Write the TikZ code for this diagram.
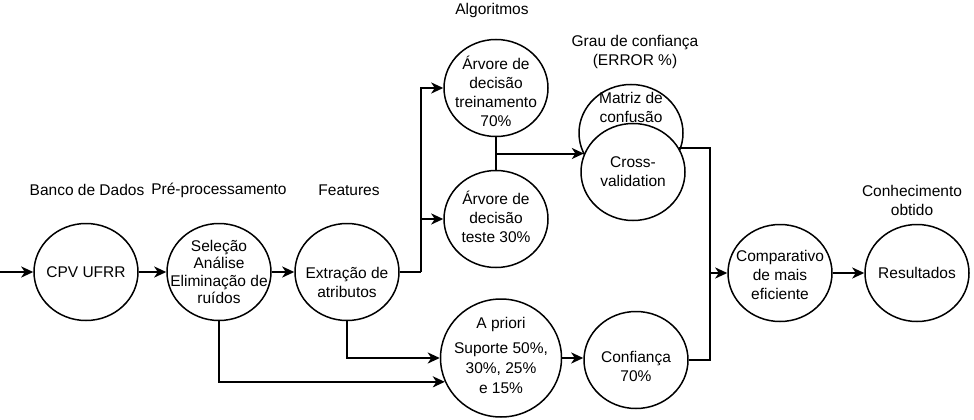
\documentclass[tikz,border=0pt]{standalone}
\usepackage{fontspec}
\setmainfont{Liberation Sans}
\usetikzlibrary{shapes.geometric,arrows.meta,calc}
\begin{document}
\begin{tikzpicture}[x=1pt,y=-1pt,
  proc/.style={ellipse,draw,line width=1.5pt,fill=white,minimum width=104pt,minimum height=97pt,inner sep=0pt},
  lbl/.style={align=center,font=\fontsize{15.5}{19}\selectfont,inner sep=0pt},
  wire/.style={line width=2pt},
  arr/.style={wire,-{Stealth[length=12pt,width=11pt,inset=3.5pt]}},
]
\useasboundingbox[fill=white] (0,0) rectangle (974,420);

% top labels
\node[lbl] (lbanco) at (87,190) {Banco de Dados};
\node[lbl] (lpre) at (219,190) {Pré-processamento};
\node[lbl] (lfeat) at (349,190) {Features};
\node[lbl] (lalg) at (492,10) {Algoritmos};
\node[lbl] (lgrau) at (635,52) {Grau de confiança\\(ERROR \%)};
\node[lbl] (lconh) at (912,200) {Conhecimento\\obtido};

% processes
\node[proc,label={[lbl]center:CPV UFRR}] (cpv) at (86,272) {};
\node[proc,label={[lbl,font=\fontsize{15.5}{17.5}\selectfont]center:Seleção\\Análise\\Eliminação de\\ruídos}] (pre) at (219,272) {};
\node[proc,label={[lbl,yshift=-10pt]center:Extração de\\atributos}] (ext) at (347,272) {};
\node[proc,label={[lbl,yshift=-3pt]center:Árvore de\\decisão\\treinamento\\70\%}] (treino) at (496,88) {};
\node[proc,label={[lbl,yshift=2pt]center:Árvore de\\decisão\\teste 30\%}] (teste) at (496,219) {};
\node[proc,label={[lbl,yshift=26pt]center:Matriz de\\confusão}] (matriz) at (631,133) {};
\node[proc,label={[lbl]center:Cross-\\validation}] (cross) at (633,172) {};
\node[proc,minimum width=121pt,minimum height=118pt,label={[lbl,font=\fontsize{15.5}{20}\selectfont,yshift=3pt]center:A priori\\[5pt]Suporte 50\%,\\30\%, 25\%\\e 15\%}] (apriori) at (501,358) {};
\node[proc,label={[lbl,yshift=-6pt]center:Confiança\\70\%}] (conf) at (636,360) {};
\node[proc,label={[lbl,yshift=-2pt]center:Comparativo\\de mais\\eficiente}] (comp) at (780,273) {};
\node[proc,label={[lbl]center:Resultados}] (res) at (917,273) {};

% connectors
\coordinate (start) at (0,272);
\draw[arr] (start) -- (cpv.west);
\draw[arr] (cpv) -- (pre);
\draw[arr] (pre) -- (ext);
\coordinate (split) at (421,272);
\draw[wire] (ext.east) -- (split);
\draw[arr] (split) |- (teste.west);
\draw[arr] (split) |- (treino.west);
\draw[arr] (pre.south) |- (apriori.203);
\draw[arr] (ext.south) |- (apriori.west);
\coordinate (mid) at ($(treino.south)!0.5!(teste.north)$);
\draw[wire] (treino.south) -- (teste.north);
\draw[arr] (mid) -- (mid -| cross.160);
\coordinate (join) at (710,273);
\draw[wire] (cross.27) -| (join);
\draw[wire] (conf.east) -| (join);
\draw[arr] (join) -- (comp.west);
\draw[arr] (apriori.east) -- (apriori.east -| conf.west);
\draw[arr] (comp) -- (res);
\end{tikzpicture}
\end{document}
